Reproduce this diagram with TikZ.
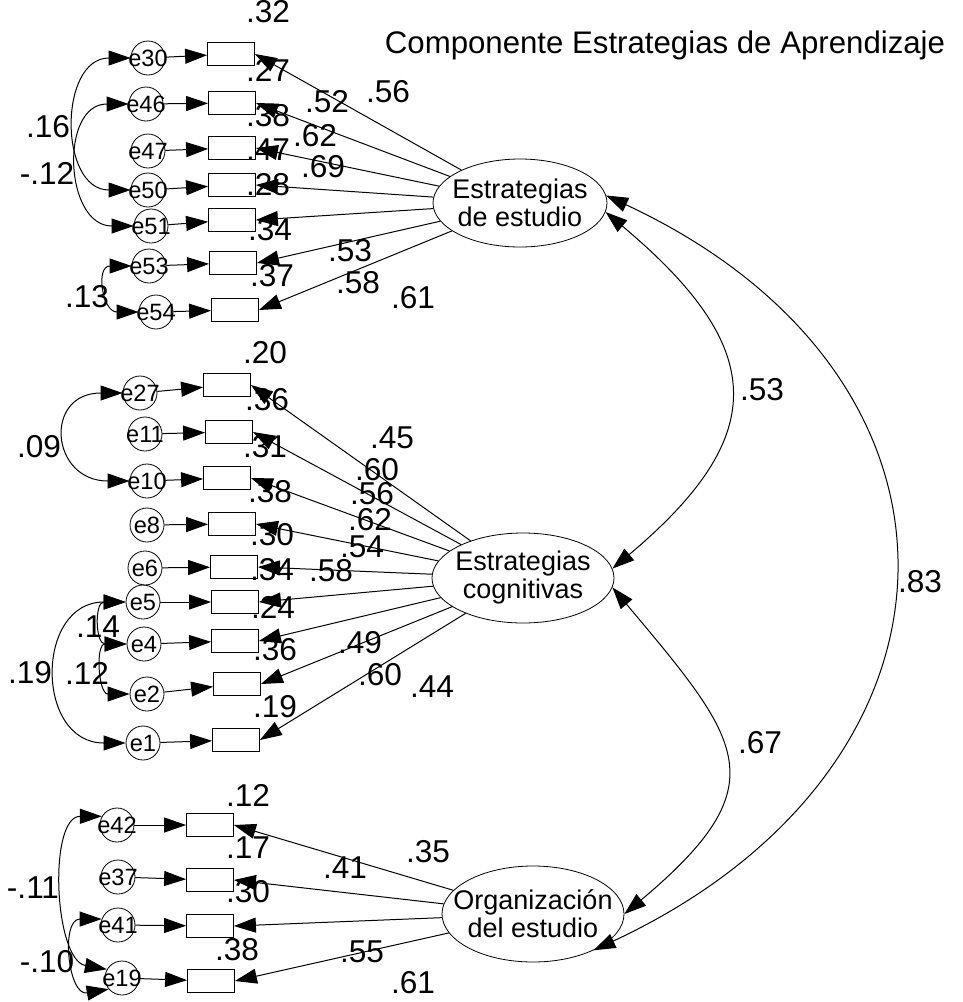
\documentclass[tikz,border=0pt]{standalone}
\usepackage{fontspec}
\setmainfont{Liberation Sans}
\usetikzlibrary{shapes.geometric}
\usetikzlibrary{arrows.meta}

\tikzset{
  obs/.style={draw, rectangle, minimum width=23.5pt, minimum height=11.5pt, inner sep=0pt},
  err/.style={draw, circle, minimum size=17pt, inner sep=0pt},
  latent/.style={draw, ellipse, inner sep=0pt},
  errtext/.style={font=\fontsize{11.8}{13}\selectfont},
  lvtext/.style={font=\fontsize{13.5}{14}\selectfont, align=center},
  num/.style={font=\fontsize{15.8}{17}\selectfont, inner sep=0pt},
  arr/.style={-{Triangle[length=11pt,width=7.5pt]}, line width=0.5pt},
  cov/.style={{Triangle[length=11pt,width=7.5pt]}-{Triangle[length=11pt,width=7.5pt]}, line width=0.5pt},
}

\begin{document}
\begin{tikzpicture}[x=0.5pt, y=-0.5pt]
    \useasboundingbox (0,0) rectangle (963,1002);

    % Factors
    \node[latent, minimum width=87pt, minimum height=44pt,
          label={[lvtext]center:Estrategias\\de estudio}] (est) at (520,203) {};
    \node[latent, minimum width=91pt, minimum height=45pt,
          label={[lvtext]center:Estrategias\\cognitivas}] (cog) at (523,578) {};
    \node[latent, minimum width=91pt, minimum height=48pt,
          label={[lvtext]center:Organización\\del estudio}] (org) at (533,914) {};

    \node[font=\fontsize{15.6}{18}\selectfont] (title) at (665,45) {Componente Estrategias de Aprendizaje};

    % Estrategias de estudio: items with their errors
    \foreach \n/\ex/\ey/\rx/\ry in {30/148/58/231/54, 46/146/104/232/103, 47/148/151/232/148,
                                    50/148/190/232/185, 51/151/226/232/220, 53/149/266/233/263,
                                    54/156/312/235/310} {
        \node[err, label={[errtext]center:e\n}] (e\n) at (\ex,\ey) {};
        \node[obs] (r\n) at (\rx,\ry) {};
        \draw[arr] (e\n) -- (r\n);
        \draw[arr] (est) -- (r\n.east);
    }

    % Estrategias cognitivas
    \foreach \n/\ex/\ey/\rx/\ry in {27/140/393/227/385, 11/145/434/229/432, 10/147/481/227/478,
                                    8/147/525/232/524, 6/145/568/234/567, 5/143/602/235/602,
                                    4/144/644/235/641, 2/147/694/237/684, 1/143/743/236/740} {
        \node[err, label={[errtext]center:e\n}] (e\n) at (\ex,\ey) {};
        \node[obs] (r\n) at (\rx,\ry) {};
        \draw[arr] (e\n) -- (r\n);
        \draw[arr] (cog) -- (r\n.east);
    }

    % Organizacion del estudio
    \foreach \n/\ex/\ey/\rx/\ry in {42/117/825/210/825, 37/118/877/210/880,
                                    41/118/925/210/926, 19/122/978/211/981} {
        \node[err, label={[errtext]center:e\n}] (e\n) at (\ex,\ey) {};
        \node[obs] (r\n) at (\rx,\ry) {};
        \draw[arr] (e\n) -- (r\n);
        \draw[arr] (org) -- (r\n.east);
    }

    % error covariances
    \draw[cov] (e30) to[out=180, in=180, looseness=1.4] (e50);
    \draw[cov] (e46) to[out=180, in=180, looseness=1.45] (e51);
    \draw[cov] (e53) to[out=180, in=180, looseness=2.0] (e54);
    \draw[cov] (e27) to[out=180, in=180, looseness=2.3] (e10);
    \draw[cov] (e5) to[out=180, in=180, looseness=1.65] (e1);
    \draw[cov] (e5) to[out=180, in=180, looseness=1.9] (e4);
    \draw[cov] (e4) to[out=180, in=180, looseness=1.6] (e2);
    \draw[cov] (e42.150) to[out=180, in=170, looseness=0.9] (e19.150);
    \draw[cov] (e41.160) to[out=180, in=190, looseness=1.5] (e19.220);

    % factor correlations
    \draw[cov] (est.-6) to[out=-40, in=40, looseness=1.5] (cog.6);
    \draw[cov] (cog.-6) to[out=-50, in=40, looseness=1.58] (org.0);
    \draw[cov] (est.5) to[out=-25, in=25, looseness=1.46] (org.-31);

    % estimates
    \foreach \px/\py/\val [count=\i] in {
        268/12/.32, 268/70/.27, 327/102/.52, 388/92/.56, 268/116/.38, 315/136/.62,
        268/150/.47, 323/167/.69, 268/185/.28, 270/230/.34, 350/251/.53, 272/276/.37,
        358/283/.58, 413/298/.61, 48/127/.16, 47/173/-.12, 87/297/.13,
        265/353/.20, 267/400/.36, 392/438/.45, 265/447/.31, 377/470/.60, 372/494/.56,
        270/492/.38, 370/520/.62, 272/535/.30, 362/547/.54, 272/570/.34, 331/571/.58,
        273/607/.24, 275/650/.36, 360/643/.49, 380/675/.60, 432/687/.44, 275/707/.19,
        39/447/.09, 98/627/.14, 30/673/.19, 87/673/.12,
        248/795/.12, 248/848/.17, 428/852/.35, 345/868/.41, 248/892/.30, 237/950/.38,
        362/952/.55, 413/983/.61, 33/888/-.11, 47/962/-.10,
        762/390/.53, 920/582/.83, 760/743/.67} {
        \node[num] (w\i) at (\px,\py) {\val};
    }
\end{tikzpicture}
\end{document}
